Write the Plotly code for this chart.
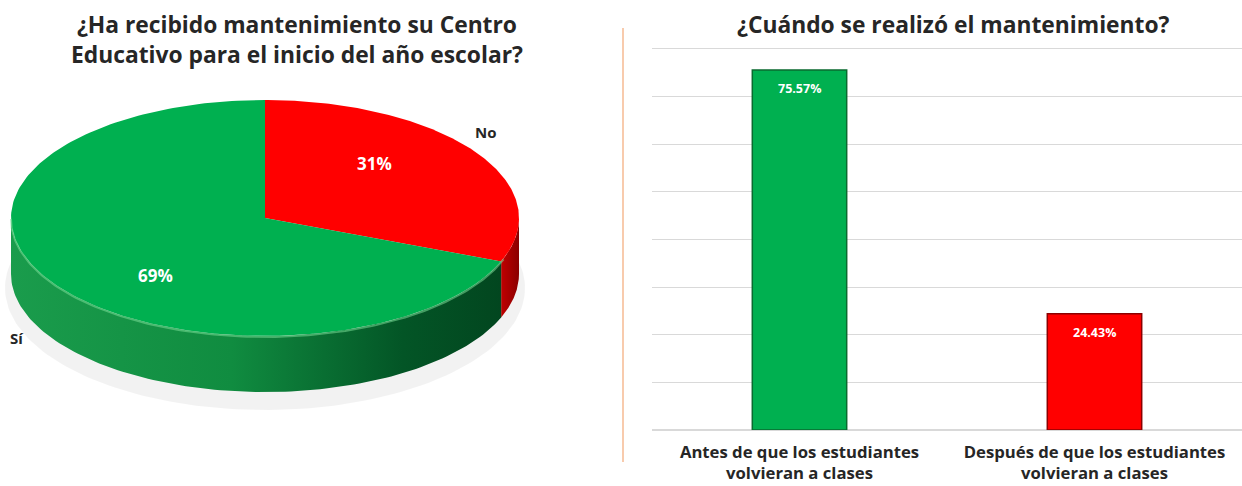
import numpy as np
import plotly.graph_objects as go

# ---------------- data ----------------
pie_labels = ["No", "Sí"]
pie_values = [31, 69]
pie_top_colors = ["#FF0000", "#00B050"]
pie_side_scales = [
    [[0, "#c00000"], [1, "#8a0000"]],
    [[0, "#1a9c4c"], [0.45, "#108c40"], [0.8, "#035526"], [1, "#02461f"]],
]

bar_categories = ["Antes de que los estudiantes<br>volvieran a clases",
                  "Después de que los estudiantes<br>volvieran a clases"]
bar_values = [75.57, 24.43]
bar_colors = ["#00B050", "#FF0000"]
bar_edges = ["#0a6a2f", "#8c0000"]

left_title = "¿Ha recibido mantenimiento su Centro<br>Educativo para el inicio del año escolar?"
right_title = "¿Cuándo se realizó el mantenimiento?"

# ---------------- layout constants ----------------
W, H = 1242, 486
FONT = "Open Sans"
TXT = "#262626"
CX, CY, A, B, DEPTH = 265, 218, 254, 118, 56


def px(x):
    return x / W


def py(y):
    return 1 - y / H


def ell(t, dy=0.0):
    return CX + A * np.sin(t), CY - B * np.cos(t) + dy


fig = go.Figure()

# soft shadow
t = np.linspace(0, 2 * np.pi, 200)
sx, sy = CX + (A + 6) * np.sin(t), CY + DEPTH + 14 - (B + 4) * np.cos(t)
fig.add_trace(go.Scatter(x=sx, y=sy, fill="toself", mode="lines", line=dict(width=0),
                         fillcolor="rgba(0,0,0,0.05)", hoverinfo="skip", showlegend=False))

total = sum(pie_values)
starts = np.cumsum([0] + pie_values[:-1]) / total * 2 * np.pi
ends = np.cumsum(pie_values) / total * 2 * np.pi

# sides (visible front half: angles pi/2 .. 3pi/2)
for s, e, sc in zip(starts, ends, pie_side_scales):
    lo, hi = max(s, np.pi / 2), min(e, 3 * np.pi / 2)
    if hi <= lo:
        continue
    tt = np.linspace(lo, hi, 120)
    x1, y1 = ell(tt)
    x2, y2 = ell(tt[::-1], DEPTH)
    fig.add_trace(go.Scatter(x=np.r_[x1, x2, x1[:1]], y=np.r_[y1, y2, y1[:1]], fill="toself",
                             mode="lines", line=dict(width=0),
                             fillgradient=dict(type="horizontal", colorscale=sc),
                             hoverinfo="skip", showlegend=False))

# top faces
for s, e, c in zip(starts, ends, pie_top_colors):
    tt = np.linspace(s, e, 200)
    x1, y1 = ell(tt)
    fig.add_trace(go.Scatter(x=np.r_[CX, x1, CX], y=np.r_[CY, y1, CY], fill="toself",
                             mode="lines", line=dict(width=0), fillcolor=c,
                             hoverinfo="skip", showlegend=False))

# rim highlight on front edge
tt = np.linspace(np.pi / 2 + 0.35, 3 * np.pi / 2, 150)
rx, ry = ell(tt, 1)
fig.add_trace(go.Scatter(x=rx, y=ry, mode="lines", line=dict(width=2, color="rgba(120,220,150,0.55)"),
                         hoverinfo="skip", showlegend=False))

# pie labels
label_offsets = [(1.05, -16), (1.18, 42)]
pct_offsets = [(0.52, -20), (0.52, 23)]
for s, e, lab, v, lo, po in zip(starts, ends, pie_labels, pie_values, label_offsets, pct_offsets):
    m = (s + e) / 2
    lx, ly = CX + lo[0] * A * np.sin(m), CY - lo[0] * B * np.cos(m) + lo[1]
    fig.add_annotation(x=lx, y=ly, xref="x", yref="y", text=lab, showarrow=False,
                       xanchor="center", yanchor="middle",
                       font=dict(family=FONT, size=15, color=TXT, weight="bold"))
    qx, qy = CX + po[0] * A * np.sin(m), CY - po[0] * B * np.cos(m) + po[1]
    fig.add_annotation(x=qx, y=qy, xref="x", yref="y", text=f"{round(v / total * 100)}%",
                       showarrow=False, xanchor="center", yanchor="middle",
                       font=dict(family=FONT, size=17, color="white", weight="bold"))

# bars
fig.add_trace(go.Bar(x=bar_categories, y=bar_values, xaxis="x2", yaxis="y2", width=0.32,
                     marker=dict(color=bar_colors, line=dict(color=bar_edges, width=1.5)),
                     hoverinfo="skip", showlegend=False))
for cat, v in zip(bar_categories, bar_values):
    fig.add_annotation(x=cat, y=v, xref="x2", yref="y2", text=f"{v:.2f}%", showarrow=False,
                       xanchor="center", yanchor="top", yshift=-8,
                       font=dict(family=FONT, size=12.5, color="white", weight="bold"))

# value axis: 0..80 spans pixel rows 430..49; range padded by 1 unit so the 80 gridline shows
Y_MAX, Y_PAD = 80, 1
unit_px = (430 - 49) / Y_MAX
fig.update_layout(
    width=W, height=H, margin=dict(l=0, r=0, t=0, b=0),
    paper_bgcolor="white", plot_bgcolor="rgba(0,0,0,0)",
    font=dict(family=FONT, color=TXT),
    xaxis=dict(domain=[0, px(620)], range=[0, 620], visible=False, fixedrange=True),
    yaxis=dict(domain=[0, 1], range=[H, 0], visible=False, fixedrange=True),
    xaxis2=dict(domain=[px(652), 1], anchor="y2", showgrid=False, showline=False, ticks="",
                ticklabelstandoff=10,
                tickfont=dict(family=FONT, size=16.7, color=TXT, weight="bold"), fixedrange=True),
    yaxis2=dict(domain=[py(430), py(49 - Y_PAD * unit_px)], anchor="x2", range=[0, Y_MAX + Y_PAD],
                tickvals=list(range(0, Y_MAX + 1, 10)), showgrid=True,
                gridcolor="#d9d9d9", gridwidth=1, zeroline=True, zerolinecolor="#d9d9d9",
                showticklabels=False, showline=False, fixedrange=True),
    shapes=[dict(type="line", xref="paper", yref="paper", x0=px(623), x1=px(623),
                 y0=py(28), y1=py(462), line=dict(color="#F8CBAD", width=2))],
)

fig.add_annotation(x=px(297), y=py(40), xref="paper", yref="paper", text=left_title, showarrow=False,
                   xanchor="center", yanchor="middle",
                   font=dict(family=FONT, size=22.8, color=TXT, weight="bold"), align="center")
fig.add_annotation(x=px(953), y=py(24), xref="paper", yref="paper", text=right_title, showarrow=False,
                   xanchor="center", yanchor="middle",
                   font=dict(family=FONT, size=22.8, color=TXT, weight="bold"))

fig.write_html("out.html", config={"displayModeBar": False},
               post_script="document.body.style.margin='0';")
